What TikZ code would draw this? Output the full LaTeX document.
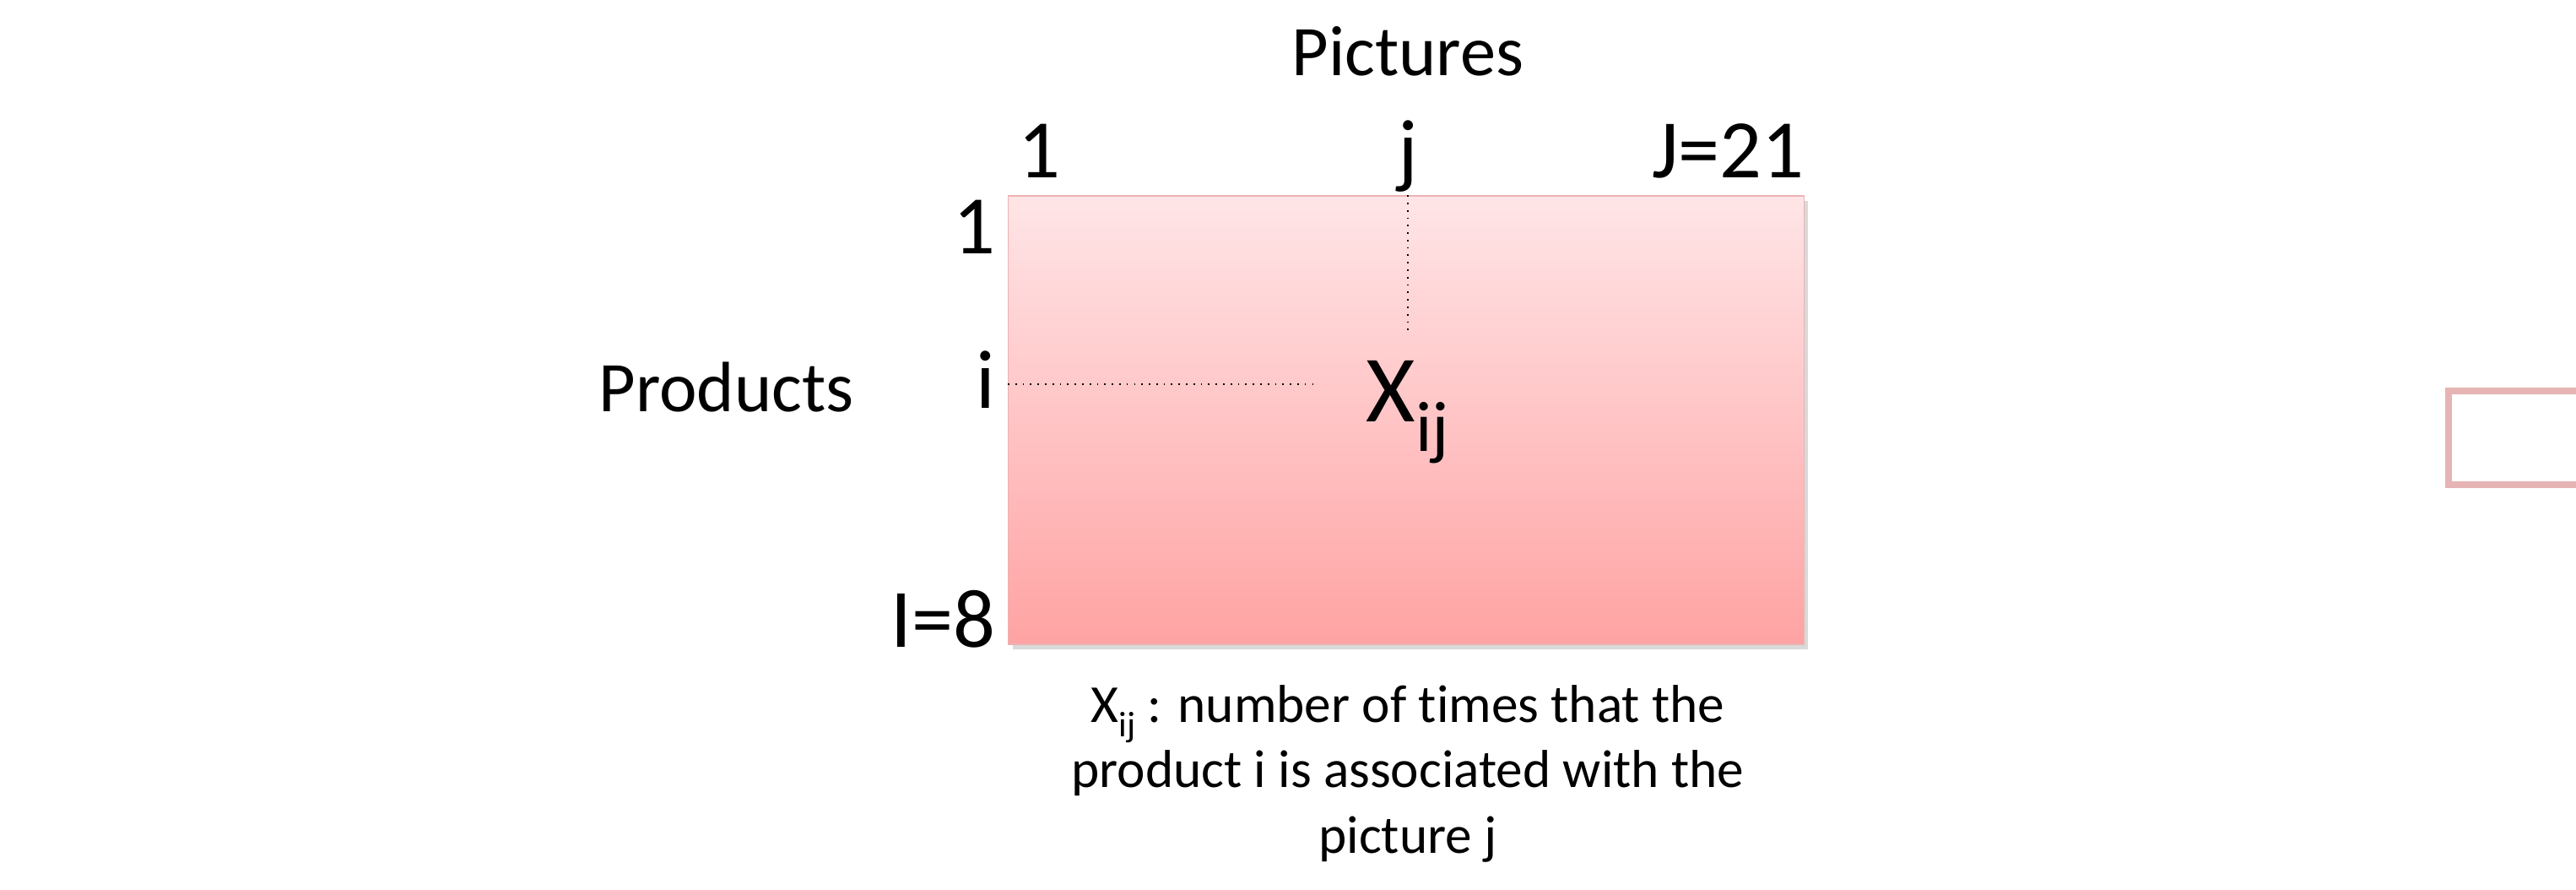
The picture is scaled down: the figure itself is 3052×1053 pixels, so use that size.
\documentclass[tikz,border=0pt]{standalone}
\usepackage{fontspec}
\setmainfont{Carlito}[Ligatures=NoCommon]
\usetikzlibrary{positioning,shadows}
\definecolor{pinktop}{RGB}{255,229,231}
\definecolor{pinkbot}{RGB}{255,163,163}
\definecolor{pinkedge}{RGB}{236,178,178}
\definecolor{stubedge}{RGB}{230,180,180}

\begin{document}
\begin{tikzpicture}[x=0.01cm,y=-0.01cm,
  lab/.style={font=\fontsize{28}{30}\selectfont,inner sep=0pt},
  axislab/.style={font=\fontsize{24}{28}\selectfont,inner sep=0pt},
  mat/.style={draw=pinkedge,line width=0.4pt,top color=pinktop,bottom color=pinkbot,minimum width=9.42cm,minimum height=5.31cm,inner sep=0pt,
    drop shadow={shadow xshift=0.5mm,shadow yshift=-0.6mm,opacity=0.3}},
  guide/.style={dotted,line width=0.5pt},
  note/.style={font=\fontsize{18}{22}\selectfont,align=center,inner sep=0pt},
  stubbox/.style={draw=stubedge,line width=0.8mm,minimum width=2cm,minimum height=1.11cm,inner sep=0pt,anchor=north west}]
\useasboundingbox (0,0) rectangle (3052,1053);
% data matrix
\node[mat](mat) at (1666,497.5){};
\node[axislab,anchor=base](pics) at (1668,89){Pictures};
\node[axislab,anchor=base west](prods) at (709,487){Products};
% column and row indices
\node[lab,anchor=base west](c1) at (1206,210){1};
\node[lab,anchor=base](cj) at (1668,210){j};
\node[lab,anchor=base east](cJ) at (2138,210){J=21};
\node[lab,anchor=base east](r1) at (1180,300){1};
\node[lab,anchor=base east](ri) at (1180,483){i};
\node[lab,anchor=base east](rI) at (1180,766){I=8};
\node[anchor=base west,inner sep=0pt,font=\fontsize{32}{34}\selectfont](xij) at (1618,499){X\raisebox{-10pt}{\fontsize{24}{24}\selectfont ij}};
\coordinate(hend) at (1562,455);
\coordinate(vend) at (1668,394);
\draw[guide](mat.west |- hend)--(hend);
\draw[guide](mat.north -| vend)--(vend);
% caption
\node[note,anchor=base](cap) at (1668,1010){X\raisebox{-5pt}{\fontsize{12}{12}\selectfont ij} : number of times that the\\product i is associated with the\\picture j};
\node[stubbox](stub) at (2897,459){};
\end{tikzpicture}
\end{document}
